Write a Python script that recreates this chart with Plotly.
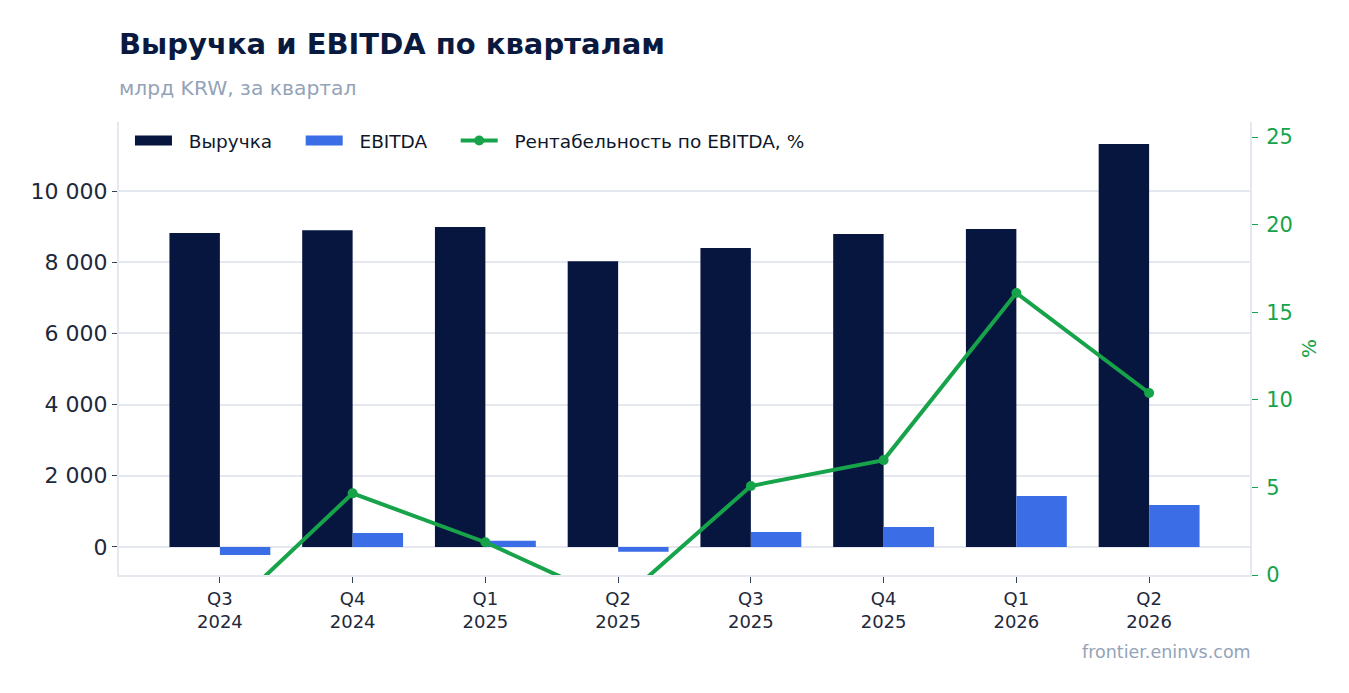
import plotly.graph_objects as go

quarters = ["Q3<br>2024", "Q4<br>2024", "Q1<br>2025", "Q2<br>2025",
            "Q3<br>2025", "Q4<br>2025", "Q1<br>2026", "Q2<br>2026"]
revenue = [8820, 8900, 8990, 8030, 8400, 8790, 8930, 11320]
ebitda = [-225, 390, 170, -140, 420, 560, 1430, 1180]
margin = [-2.5, 4.66, 1.87, -1.6, 5.08, 6.56, 16.1, 10.39]

NAVY = "#06163f"
BLUE = "#3b6de6"
GREEN = "#16a34a"
GRID = "#e5e8ef"

fig = go.Figure()
fig.add_trace(go.Bar(x=quarters, y=revenue, name="Выручка", marker_color=NAVY,
                     marker_line_width=0, showlegend=False))
fig.add_trace(go.Bar(x=quarters, y=ebitda, name="EBITDA", marker_color=BLUE,
                     marker_line_width=0, showlegend=False))
fig.add_trace(go.Scatter(x=quarters, y=margin, name="Рентабельность по EBITDA, %",
                         yaxis="y2", mode="lines+markers",
                         line=dict(color=GREEN, width=4),
                         marker=dict(color=GREEN, size=10), showlegend=False))

# legend-only entries (wide rectangular swatches like the original)
nb = "\u00a0"
fig.add_trace(go.Scatter(x=[None], y=[None], name=nb * 2 + "Выручка" + nb * 4,
                         mode="lines", line=dict(color=NAVY, width=13), legendrank=1))
fig.add_trace(go.Scatter(x=[None], y=[None], name=nb * 2 + "EBITDA" + nb * 4,
                         mode="lines", line=dict(color=BLUE, width=13), legendrank=2))
fig.add_trace(go.Scatter(x=[None], y=[None], name=nb * 2 + "Рентабельность по EBITDA, %",
                         mode="lines+markers", line=dict(color=GREEN, width=4),
                         marker=dict(color=GREEN, size=10), legendrank=3))

fig.update_layout(
    width=1341, height=685,
    font=dict(family="DejaVu Sans", color="#0f172a"),
    paper_bgcolor="white", plot_bgcolor="white",
    margin=dict(l=111, r=99, t=114, b=118),
    barmode="group", bargap=0.24, bargroupgap=0,
    title=dict(text="<b>Выручка и EBITDA по кварталам</b>", x=0, xref="paper",
               y=(685 - 36) / 685, yanchor="middle",
               font=dict(size=29, color="#0a1a3f")),
    legend=dict(orientation="h", x=0.0097, y=1.0, xanchor="left", yanchor="top",
                itemwidth=37, bgcolor="rgba(0,0,0,0)",
                font=dict(size=18.5, color="#0f172a")),
    xaxis=dict(range=[-0.76, 7.76], showline=True, linecolor=GRID, linewidth=2,
               ticks="outside", tickcolor="#334155", ticklen=6,
               tickfont=dict(size=18, color="#1e293b")),
    yaxis=dict(range=[-790, 11940], dtick=2000, gridcolor=GRID, gridwidth=1.5,
               showline=True, linecolor=GRID, linewidth=2, zeroline=False,
               ticks="outside", tickcolor="#334155", ticklen=5,
               separatethousands=True, tickformat=",d",
               tickfont=dict(size=22, color="#1e293b")),
    yaxis2=dict(overlaying="y", side="right", range=[0, 25.86], dtick=5,
                showgrid=False, zeroline=False, showline=True, linecolor=GRID,
                linewidth=2, ticks="outside", tickcolor=GREEN, ticklen=6,
                ticklabelstandoff=4,
                tickfont=dict(size=21, color=GREEN),
                title=dict(text="%", font=dict(size=20, color=GREEN), standoff=10)),
    separators=", ",
)

plot_h = 685 - 114 - 118
fig.add_annotation(text="млрд KRW, за квартал", x=0, xref="paper", yref="paper",
                   y=(685 - 118 - 80) / plot_h, showarrow=False,
                   xanchor="left", yanchor="middle", xshift=-2,
                   font=dict(size=20.3, color="#94a3b8"))
fig.add_annotation(text="frontier.eninvs.com", x=1, xref="paper", yref="paper",
                   y=(685 - 118 - 644) / plot_h, showarrow=False,
                   xanchor="right", yanchor="middle", xshift=3,
                   font=dict(size=17.5, color="#94a3b8"))

fig.write_html("out.html")
